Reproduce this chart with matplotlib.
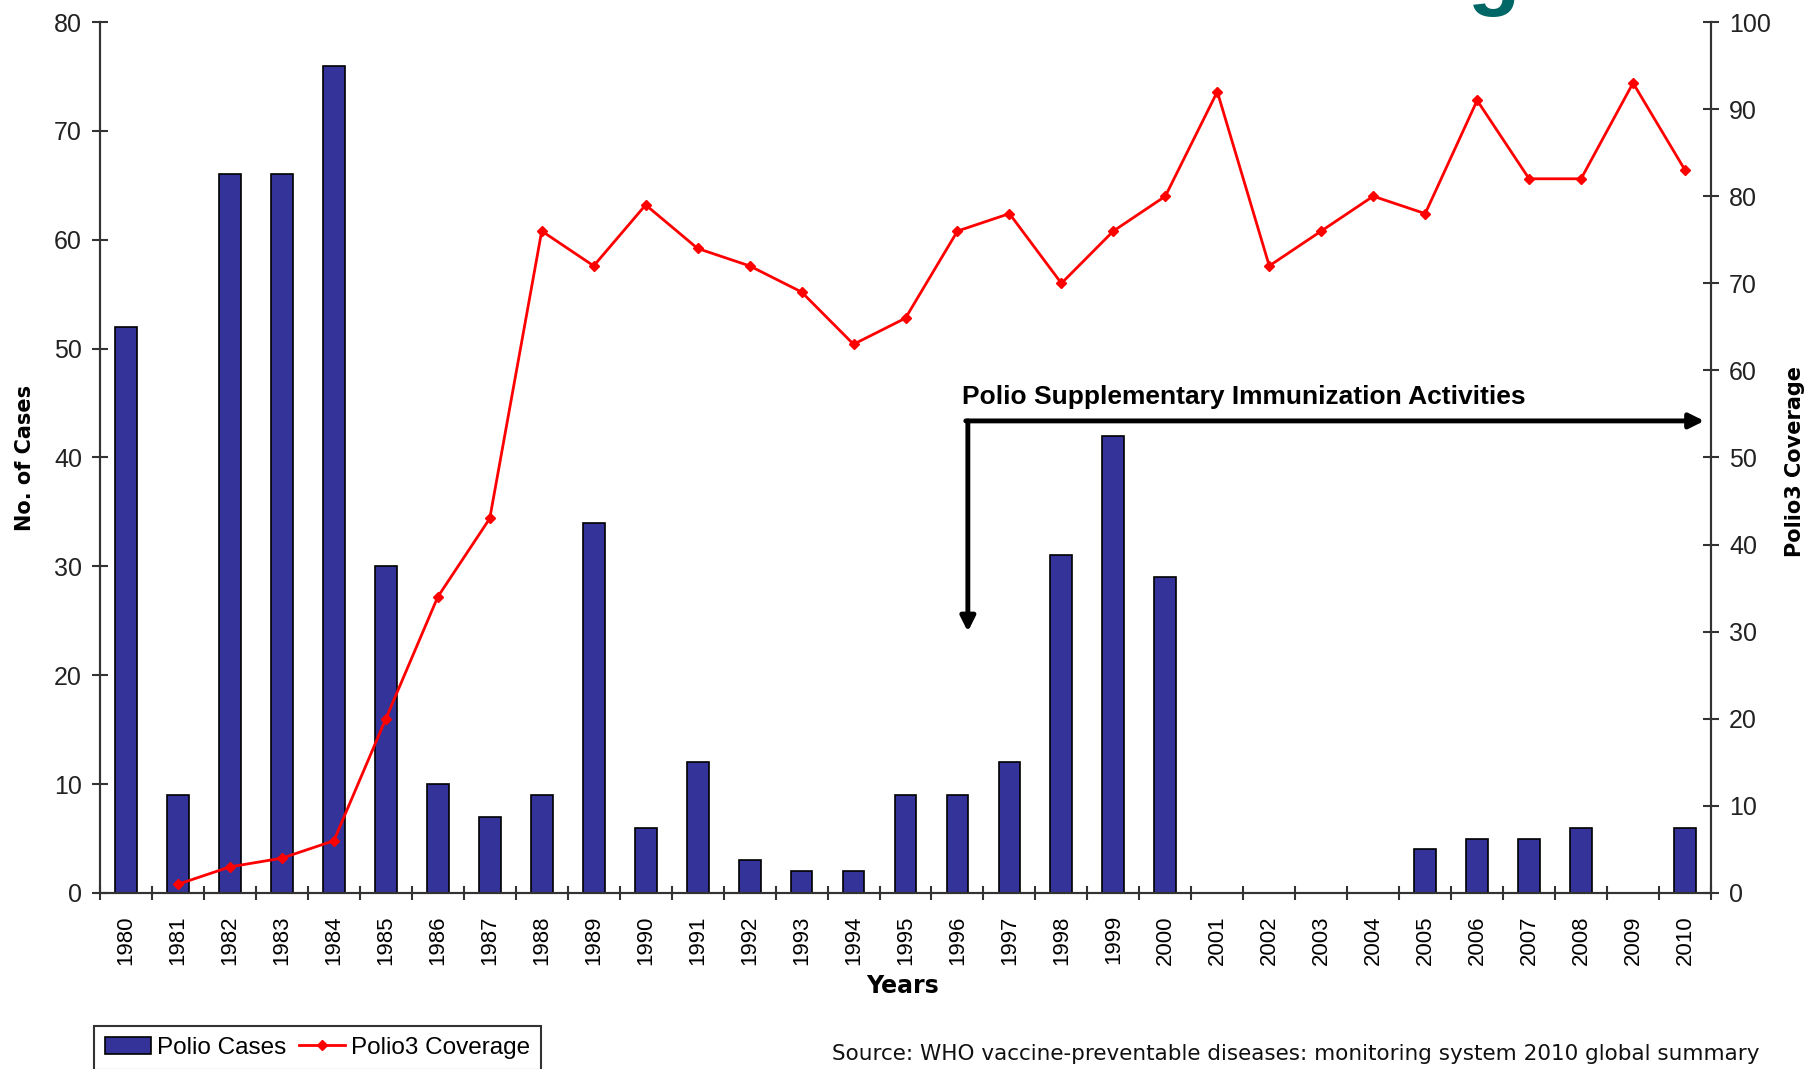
import matplotlib
matplotlib.use("Agg")
import matplotlib.pyplot as plt
from matplotlib.lines import Line2D
from matplotlib.patches import Patch

# data
years = list(range(1980, 2011))
cases = [52, 9, 66, 66, 76, 30, 10, 7, 9, 34, 6, 12, 3, 2, 2, 9, 9, 12, 31, 42, 29,
         0, 0, 0, 0, 4, 5, 5, 6, 0, 6]
coverage_years = list(range(1981, 2011))
coverage = [1, 3, 4, 6, 20, 34, 43, 76, 72, 79, 74, 72, 69, 63, 66, 76, 78, 70, 76, 80,
            92, 72, 76, 80, 78, 91, 82, 82, 93, 83]
sia_start = 1996
sia_label = "Polio Supplementary Immunization Activities"
source_note = "Source: WHO vaccine-preventable diseases: monitoring system 2010 global summary"

BAR = "#333399"
RED = "#ff0000"
TEAL = "#006666"
TICKFONT = ["Liberation Sans", "DejaVu Sans"]
NARROW = ["Liberation Sans Narrow", "Liberation Sans", "DejaVu Sans"]

fig = plt.figure(figsize=(18.12, 10.69), dpi=100)
ax = fig.add_axes([100 / 1812, 1 - 893 / 1069, 1611 / 1812, 871 / 1069])
ax2 = ax.twinx()

xpos = [y - years[0] for y in years]
ax.bar(xpos, cases, width=0.42, color=BAR, edgecolor="black", linewidth=1.2, zorder=2)
cov_x = [y - years[0] for y in coverage_years]
ax2.plot(cov_x, coverage, color=RED, lw=2, marker="D", ms=5.5, zorder=3)

ax.set_xlim(-0.5, len(years) - 0.5)
ax.set_ylim(0, 80)
ax2.set_ylim(0, 100)
ax.set_yticks(range(0, 81, 10))
ax2.set_yticks(range(0, 101, 10))

# category labels at centres, tick marks at boundaries
ax.set_xticks(xpos)
ax.set_xticklabels([str(y) for y in years], rotation=90, family=TICKFONT, fontsize=16)
ax.set_xticks([i - 0.5 for i in range(len(years) + 1)], minor=True)
ax.tick_params(axis="x", which="major", length=0, pad=16)
ax.tick_params(axis="x", which="minor", direction="inout", length=10, width=1.5, color="#333333")
ax.tick_params(axis="y", direction="inout", length=12, width=1.5, color="#333333", pad=7)
ax2.tick_params(axis="y", direction="inout", length=12, width=1.5, color="#333333", pad=7)
for lab in ax.get_yticklabels() + ax2.get_yticklabels():
    lab.set_family(TICKFONT)
    lab.set_fontsize(18)
    lab.set_color("#222222")

for a in (ax, ax2):
    a.spines["top"].set_visible(False)
    for s in ("left", "right", "bottom"):
        a.spines[s].set_color("#333333")
        a.spines[s].set_linewidth(1.5)

# SIA arrow
sx = sia_start - years[0] + 0.2
corner_y = 54.2
ax2.annotate("", xy=(sx, 30.0), xytext=(sx, corner_y),
             arrowprops=dict(arrowstyle="-|>", lw=3.5, color="black", mutation_scale=22,
                             shrinkA=0, shrinkB=0))
ax2.annotate("", xy=(30.37, corner_y), xytext=(sx - 0.04, corner_y),
             arrowprops=dict(arrowstyle="-|>", lw=3.5, color="black", mutation_scale=22,
                             shrinkA=0, shrinkB=0))
ax2.text(sx - 0.12, 55.6, sia_label, family=NARROW, fontweight="bold", fontsize=19,
         ha="left", va="bottom")

# axis titles
fig.text(0.014, 0.572, "No. of Cases", rotation=90, ha="center", va="center",
         fontsize=15, fontweight="bold")
fig.text(0.9905, 0.568, "Polio3 Coverage", rotation=90, ha="center", va="center",
         fontsize=15, fontweight="bold")
fig.text(0.498, 0.078, "Years", ha="center", va="center", fontsize=17, fontweight="bold")

# slide title, mostly cut off by the top edge
fig.text(1568 / 1812, 1 + 1 / 1069, "Polio Cases and Polio3 Coverage", ha="right",
         va="baseline", family=NARROW, fontweight="bold", fontsize=62, color=TEAL)

handles = [Patch(facecolor=BAR, edgecolor="black", linewidth=1.2),
           Line2D([], [], color=RED, lw=2, marker="D", ms=5.5)]
leg = fig.legend(handles, ["Polio Cases", "Polio3 Coverage"], loc="upper left",
                 bbox_to_anchor=(94 / 1812, 1 - 1026 / 1069), ncol=2, fancybox=False,
                 edgecolor="#333333", framealpha=1, handlelength=1.9, handleheight=0.7,
                 handletextpad=0.25, columnspacing=0.5, borderpad=0.45, borderaxespad=0,
                 prop={"family": NARROW, "size": 17.5})
leg.get_frame().set_linewidth(1.5)

fig.text(1759 / 1812, 1 - 1054 / 1069, source_note, ha="right", va="center",
         fontsize=15.5, color="#111111")

fig.savefig("out.png", dpi=100)
